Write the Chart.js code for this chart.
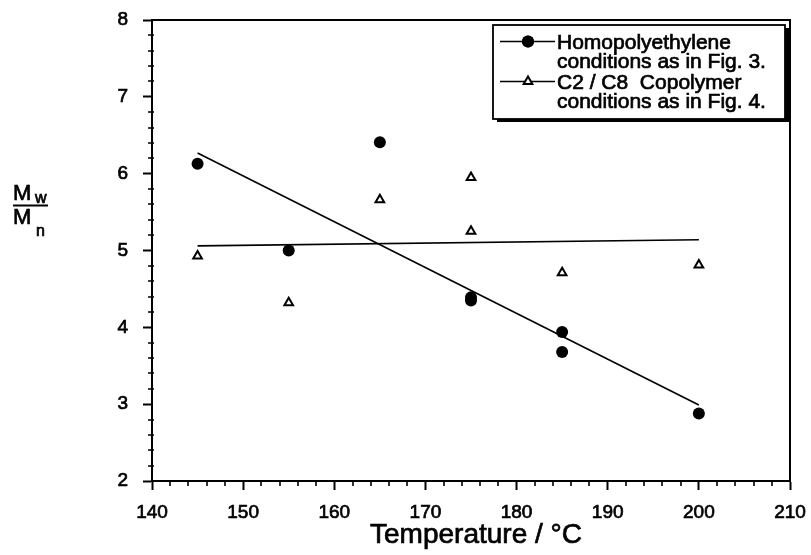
<!DOCTYPE html>
<html>
<head>
<meta charset="utf-8">
<script src="https://cdn.jsdelivr.net/npm/chart.js@4/dist/chart.umd.min.js"></script>
<style>
  html, body { margin: 0; padding: 0; background: #fff; }
  #wrap { width: 811px; height: 555px; }
</style>
</head>
<body>
<div id="wrap"><canvas id="c" width="811" height="555"></canvas></div>
<script>
// Polydispersity (Mw/Mn) versus polymerisation temperature
const homoTemps = [145, 155, 165, 175, 175, 185, 185, 200];
const homoRatio = [6.13, 5.00, 6.41, 4.39, 4.35, 3.94, 3.68, 2.88];
const copoTemps = [145, 155, 165, 175, 175, 185, 200];
const copoRatio = [4.93, 4.32, 5.66, 5.95, 5.25, 4.71, 4.81];

// straight-line fits, given by their end points
const homoFitTemps = [145, 200];
const homoFitRatio = [6.27, 2.99];
const copoFitTemps = [145, 200];
const copoFitRatio = [5.06, 5.14];

const xTicks = [140, 150, 160, 170, 180, 190, 200, 210];
const yTicks = [2, 3, 4, 5, 6, 7, 8];
const xMinorStep = 2;
const yMinorStep = 0.2;

const legendLines = [
  ["Homopolyethylene", "conditions as in Fig. 3."],
  ["C2 / C8  Copolymer", "conditions as in Fig. 4."]
];
const xTitle = "Temperature / \u00B0C";

const FONT = '"Liberation Sans", Arial, Helvetica, sans-serif';
const INK = 0.7; // slight outline so the type reads as heavy as the printed figure

const pts = (xs, ys) => xs.map((x, i) => ({ x: x, y: ys[i] }));

function inkText(ctx, str, x, y) {
  ctx.fillText(str, x, y);
  ctx.lineWidth = INK;
  ctx.strokeText(str, x, y);
}

// minor ticks, frame, legend box and axis titles
const decorations = {
  id: 'decorations',
  afterDraw(chart) {
    const ctx = chart.ctx;
    const xs = chart.scales.x, ys = chart.scales.y;
    const a = chart.chartArea;
    ctx.save();
    ctx.strokeStyle = '#000';
    ctx.lineWidth = 1.6;

    // minor ticks
    ctx.beginPath();
    for (let v = xTicks[0]; v <= xTicks[xTicks.length - 1] + 1e-9; v += xMinorStep) {
      if (xTicks.includes(Math.round(v))) continue;
      const px = Math.round(xs.getPixelForValue(v));
      ctx.moveTo(px, a.bottom);
      ctx.lineTo(px, a.bottom + 5);
    }
    for (let k = 0; k * yMinorStep <= (yTicks[yTicks.length - 1] - yTicks[0]) + 1e-9; k++) {
      const v = yTicks[0] + k * yMinorStep;
      if (Math.abs(v - Math.round(v)) < 1e-6) continue;
      const py = Math.round(ys.getPixelForValue(v));
      ctx.moveTo(a.left - 4, py);
      ctx.lineTo(a.left + 2, py);
    }
    ctx.stroke();

    // top and right frame
    ctx.lineWidth = 2;
    ctx.beginPath();
    ctx.moveTo(a.left, a.top);
    ctx.lineTo(a.right, a.top);
    ctx.lineTo(a.right, a.bottom);
    ctx.stroke();

    // legend box with drop shadow
    const bx = 493, by = 25, bw = 292, bh = 94;
    ctx.fillStyle = '#000';
    ctx.fillRect(bx + 4, by + 3, bw, bh);
    ctx.fillStyle = '#fff';
    ctx.fillRect(bx, by, bw, bh);
    ctx.lineWidth = 1.8;
    ctx.strokeRect(bx, by, bw, bh);

    const sets = [chart.data.datasets[0], chart.data.datasets[1]];
    const rowY = [41.5, 81.5];
    ctx.textBaseline = 'alphabetic';
    ctx.textAlign = 'left';
    sets.forEach((ds, i) => {
      const y = rowY[i];
      ctx.lineWidth = 1.5;
      ctx.strokeStyle = '#000';
      ctx.beginPath();
      ctx.moveTo(500, y);
      ctx.lineTo(555, y);
      ctx.stroke();
      ctx.fillStyle = ds.backgroundColor;
      ctx.lineWidth = ds.pointBorderWidth || 1;
      ctx.beginPath();
      Chart.helpers.drawPoint(ctx, { pointStyle: ds.pointStyle, radius: ds.pointRadius, rotation: 0 }, 528, y);
      ctx.fill();
      if (ds.pointBorderWidth) ctx.stroke();
      ctx.fillStyle = '#000';
      ctx.font = '21px ' + FONT;
      inkText(ctx, legendLines[i][0], 557, y + 7);
      inkText(ctx, legendLines[i][1], 557, y + 26.5);
    });

    // x-axis title
    ctx.font = '28px ' + FONT;
    ctx.textAlign = 'center';
    inkText(ctx, xTitle, 476, 543);
    ctx.textAlign = 'left';

    // y-axis title as a fraction Mw / Mn
    ctx.font = '22px ' + FONT;
    inkText(ctx, 'M', 13, 200);
    inkText(ctx, 'M', 13, 224);
    ctx.font = '16px ' + FONT;
    inkText(ctx, 'w', 35, 203);
    inkText(ctx, 'n', 36, 236);
    ctx.lineWidth = 1.8;
    ctx.beginPath();
    ctx.moveTo(13, 205.5);
    ctx.lineTo(48, 205.5);
    ctx.stroke();

    ctx.restore();
  }
};

const tickStyle = {
  color: '#000',
  textStrokeColor: '#000',
  textStrokeWidth: INK,
  font: { family: FONT, size: 19 }
};

new Chart(document.getElementById('c'), {
  type: 'scatter',
  data: {
    datasets: [
      {
        label: legendLines[0].join(' '),
        data: pts(homoTemps, homoRatio),
        pointStyle: 'circle',
        pointRadius: 6,
        pointBorderWidth: 0,
        backgroundColor: '#000',
        borderColor: '#000'
      },
      {
        label: legendLines[1].join(' '),
        data: pts(copoTemps, copoRatio),
        pointStyle: 'triangle',
        pointRadius: 5,
        pointBorderWidth: 2,
        backgroundColor: '#fff',
        borderColor: '#000'
      },
      {
        data: pts(homoFitTemps, homoFitRatio),
        showLine: true,
        pointRadius: 0,
        borderColor: '#000',
        borderWidth: 1.6
      },
      {
        data: pts(copoFitTemps, copoFitRatio),
        showLine: true,
        pointRadius: 0,
        borderColor: '#000',
        borderWidth: 1.6
      }
    ]
  },
  options: {
    responsive: false,
    animation: false,
    layout: { padding: { top: 20, right: 21, left: 0, bottom: 0 } },
    plugins: { legend: { display: false }, tooltip: { enabled: false } },
    scales: {
      x: {
        type: 'linear',
        min: xTicks[0],
        max: xTicks[xTicks.length - 1],
        afterBuildTicks: s => { s.ticks = xTicks.map(v => ({ value: v })); },
        afterFit: s => { s.height = 74; s.paddingLeft = 0; s.paddingRight = 0; },
        ticks: Object.assign({ padding: 11 }, tickStyle),
        grid: { drawOnChartArea: false, tickLength: 9, tickColor: '#000', tickWidth: 2 },
        border: { display: true, color: '#000', width: 2 }
      },
      y: {
        type: 'linear',
        min: yTicks[0],
        max: yTicks[yTicks.length - 1],
        afterBuildTicks: s => { s.ticks = yTicks.map(v => ({ value: v })); },
        afterFit: s => { s.width = 152; s.paddingTop = 0; s.paddingBottom = 0; },
        ticks: Object.assign({ padding: 15 }, tickStyle),
        grid: { drawOnChartArea: false, tickLength: 9, tickColor: '#000', tickWidth: 2 },
        border: { display: true, color: '#000', width: 2 }
      }
    }
  },
  plugins: [decorations]
});
</script>
</body>
</html>
